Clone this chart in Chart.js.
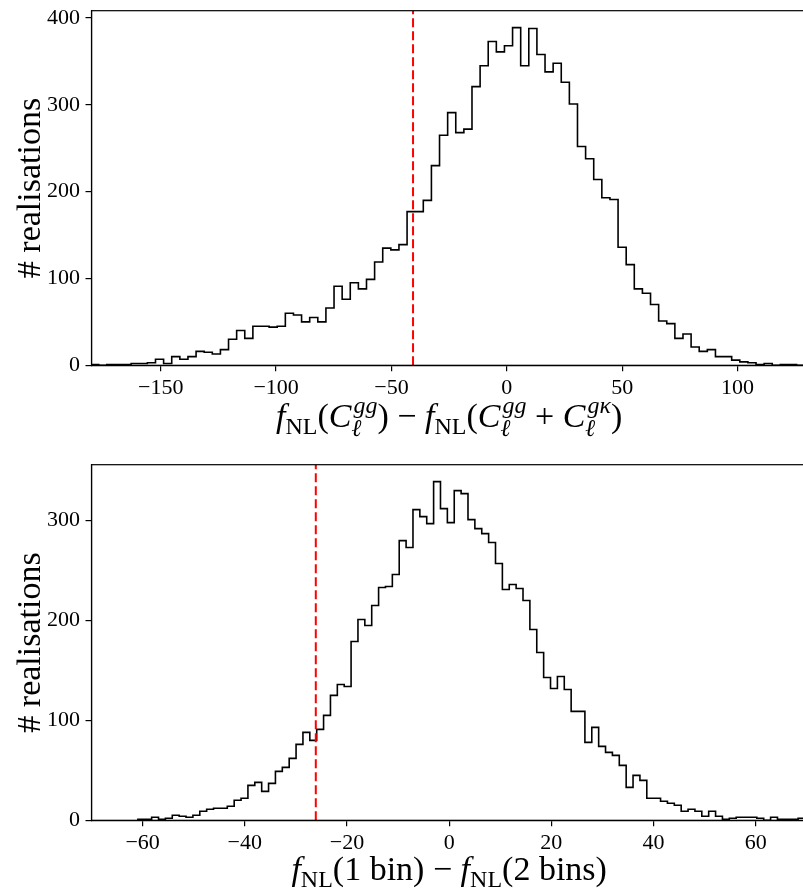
<!DOCTYPE html>
<html>
<head>
<meta charset="utf-8">
<script src="https://cdn.jsdelivr.net/npm/chart.js@4"></script>
<style>
  html, body { margin: 0; padding: 0; background: #fff; overflow: hidden; }
  canvas { display: block; }
</style>
</head>
<body>
<canvas id="top-chart" width="830" height="450"></canvas>
<canvas id="bottom-chart" width="830" height="440"></canvas>
<script>
const FONT = "'Liberation Serif', 'Times New Roman', serif";

// top panel: fNL(C_gg) - fNL(C_gg + C_gk), histogram of realisations
let topBinStart = -180.4;
let topBinWidth = 3.517;
let topCounts = [
  1, 0, 1, 1, 1, 2, 2, 3, 7, 2,
  10, 7, 10, 16, 15, 13, 18, 30, 40, 31,
  45, 45, 44, 45, 60, 58, 50, 55, 50, 66,
  91, 76, 95, 88, 99, 119, 135, 133, 139, 177,
  177, 190, 230, 265, 291, 268, 272, 321, 345, 373,
  361, 368, 389, 345, 388, 358, 338, 348, 326, 301,
  252, 238, 214, 193, 191, 136, 116, 88, 83, 70,
  51, 48, 31, 36, 21, 16, 18, 10, 10, 6,
  4, 3, 1, 2, 0, 1, 1, 0
];
let topMarker = -40.65;
let topXRange = [-180, 130];
let topXTicks = [-150, -100, -50, 0, 50, 100];
let topYTicks = [0, 100, 200, 300, 400];

// bottom panel: fNL(1 bin) - fNL(2 bins)
let bottomBinStart = -60.92;
let bottomBinWidth = 1.346;
let bottomCounts = [
  1, 1, 3, 1, 2, 5, 4, 3, 5, 9,
  11, 12, 12, 14, 20, 22, 35, 38, 29, 37,
  49, 53, 62, 76, 88, 80, 91, 105, 125, 136,
  134, 179, 201, 195, 215, 233, 234, 246, 280, 273,
  311, 304, 297, 339, 312, 298, 330, 327, 301, 292,
  287, 278, 257, 231, 236, 232, 220, 191, 168, 143,
  132, 144, 131, 109, 109, 78, 93, 74, 68, 65,
  55, 33, 45, 40, 22, 22, 19, 17, 15, 9,
  11, 9, 4, 9, 4, 1, 2, 3, 3, 3,
  2, 0, 3, 1, 1, 1, 2
];
let bottomMarker = -26.1;
let bottomXRange = [-70, 70];
let bottomXTicks = [-60, -40, -20, 0, 20, 40, 60];
let bottomYTicks = [0, 100, 200, 300];

// outline of a step histogram from bin edges and counts
let stepPoints = (start, width, counts) => {
  let pts = [{x: start, y: 0}];
  counts.forEach((c, i) => pts.push({x: start + i * width, y: c}));
  pts.push({x: start + counts.length * width, y: 0});
  return pts;
};

let minusLabel = v => (v < 0 ? '\u2212' + Math.abs(v) : String(v));

// box round the plot area, like matplotlib spines
const framePlugin = {
  id: 'frame',
  afterDraw(chart) {
    let a = chart.chartArea, ctx = chart.ctx;
    ctx.save();
    ctx.strokeStyle = '#000';
    ctx.lineWidth = 1.2;
    ctx.strokeRect(a.left, a.top, a.right - a.left, a.bottom - a.top);
    ctx.restore();
  }
};

// x axis label with sub- and superscripts
const xLabelPlugin = {
  id: 'xLabel',
  afterDraw(chart, args, opts) {
    if (!opts.parts) return;
    let ctx = chart.ctx, a = chart.chartArea;
    let size = opts.size, small = Math.round(size * 0.7);
    let fonts = {
      i: `italic ${size}px ${FONT}`,
      r: `${size}px ${FONT}`,
      sub: `${small}px ${FONT}`,
      stack: `italic ${small}px ${FONT}`
    };
    ctx.save();
    let items = [], total = 0;
    opts.parts.forEach(([txt, kind]) => {
      ctx.font = fonts[kind];
      let w;
      if (kind === 'stack') {
        w = Math.max(ctx.measureText(txt[0]).width + size * 0.06, ctx.measureText(txt[1]).width);
      } else {
        w = ctx.measureText(txt).width;
      }
      items.push({txt, kind, w});
      total += w;
    });
    let x = (a.left + a.right) / 2 - total / 2;
    let y = a.bottom + opts.offset;
    ctx.fillStyle = '#000';
    ctx.textAlign = 'left';
    ctx.textBaseline = 'alphabetic';
    items.forEach(it => {
      ctx.font = fonts[it.kind];
      if (it.kind === 'stack') {
        ctx.fillText(it.txt[0], x + size * 0.06, y - size * 0.42);
        ctx.fillText(it.txt[1], x, y + size * 0.25);
      } else if (it.kind === 'sub') {
        ctx.fillText(it.txt, x, y + size * 0.2);
      } else {
        ctx.fillText(it.txt, x, y);
      }
      x += it.w;
    });
    ctx.restore();
  }
};

function makeChart(id, cfg) {
  let yMax = Math.max(...cfg.counts) * 1.05;
  return new Chart(document.getElementById(id), {
    type: 'line',
    data: {
      datasets: [
        {
          data: [{x: cfg.marker, y: 0}, {x: cfg.marker, y: yMax}],
          borderColor: '#ff0000',
          borderWidth: 2,
          borderDash: [9, 4],
          pointRadius: 0,
          fill: false,
          order: 0
        },
        {
          data: stepPoints(cfg.binStart, cfg.binWidth, cfg.counts),
          borderColor: '#000',
          borderWidth: 1.6,
          stepped: 'before',
          pointRadius: 0,
          fill: false,
          order: 1
        }
      ]
    },
    options: {
      responsive: false,
      animation: false,
      devicePixelRatio: 1,
      layout: {padding: cfg.padding},
      plugins: {
        legend: {display: false},
        tooltip: {enabled: false},
        xLabel: {parts: cfg.label, size: 34, offset: cfg.labelOffset}
      },
      scales: {
        x: {
          type: 'linear',
          min: cfg.xRange[0],
          max: cfg.xRange[1],
          afterBuildTicks: s => { s.ticks = cfg.xTicks.map(v => ({value: v})); },
          afterFit: s => {
            s.height = 40;
            s.paddingLeft = 0; s.paddingRight = 0; s.paddingTop = 0; s.paddingBottom = 0;
          },
          grid: {drawOnChartArea: false, drawTicks: true, tickLength: 6, color: '#000', lineWidth: 1.2},
          border: {display: true, color: '#000', width: 1.2},
          ticks: {color: '#000', font: {family: FONT, size: 22}, padding: 3.5, maxRotation: 0, autoSkip: false, callback: minusLabel}
        },
        y: {
          type: 'linear',
          min: 0,
          max: yMax,
          afterBuildTicks: s => { s.ticks = cfg.yTicks.map(v => ({value: v})); },
          afterFit: s => {
            s.width = 91.5;
            s.paddingLeft = 0; s.paddingRight = 0; s.paddingTop = 0; s.paddingBottom = 0;
          },
          grid: {drawOnChartArea: false, drawTicks: true, tickLength: 6, color: '#000', lineWidth: 1.2},
          border: {display: true, color: '#000', width: 1.2},
          ticks: {color: '#000', font: {family: FONT, size: 22}, padding: 5.5, autoSkip: false},
          title: {
            display: true,
            text: '# realisations',
            color: '#000',
            font: {family: FONT, size: 34},
            padding: {top: 11, bottom: 0}
          }
        }
      }
    },
    plugins: [framePlugin, xLabelPlugin]
  });
}

makeChart('top-chart', {
  binStart: topBinStart, binWidth: topBinWidth, counts: topCounts, marker: topMarker,
  xRange: topXRange, xTicks: topXTicks, yTicks: topYTicks,
  padding: {top: 10.7, right: 23.2, bottom: 44.7, left: 0},
  labelOffset: 62,
  label: [
    ['f', 'i'], ['NL', 'sub'], ['(', 'r'], ['C', 'i'], [['gg', '\u2113'], 'stack'], [')', 'r'],
    [' \u2212 ', 'r'],
    ['f', 'i'], ['NL', 'sub'], ['(', 'r'], ['C', 'i'], [['gg', '\u2113'], 'stack'],
    [' + ', 'r'], ['C', 'i'], [['g\u03BA', '\u2113'], 'stack'], [')', 'r']
  ]
});

makeChart('bottom-chart', {
  binStart: bottomBinStart, binWidth: bottomBinWidth, counts: bottomCounts, marker: bottomMarker,
  xRange: bottomXRange, xTicks: bottomXTicks, yTicks: bottomYTicks,
  padding: {top: 14.7, right: 23.2, bottom: 29.7, left: 0},
  labelOffset: 60,
  label: [
    ['f', 'i'], ['NL', 'sub'], ['(1 bin) \u2212 ', 'r'],
    ['f', 'i'], ['NL', 'sub'], ['(2 bins)', 'r']
  ]
});
</script>
</body>
</html>
